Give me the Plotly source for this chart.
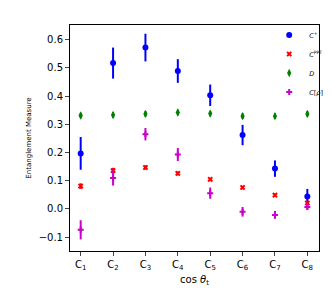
import plotly.graph_objects as go

categories = [1, 2, 3, 4, 5, 6, 7, 8]
tick_labels = ["C<sub>1</sub>", "C<sub>2</sub>", "C<sub>3</sub>", "C<sub>4</sub>",
               "C<sub>5</sub>", "C<sub>6</sub>", "C<sub>7</sub>", "C<sub>8</sub>"]

c_plus = [0.197, 0.517, 0.572, 0.489, 0.403, 0.262, 0.143, 0.044]
c_plus_err = [0.058, 0.055, 0.049, 0.042, 0.038, 0.036, 0.029, 0.027]

c_ppt = [0.081, 0.136, 0.147, 0.126, 0.105, 0.076, 0.049, 0.021]
c_ppt_err = [0.010, 0.010, 0.008, 0.007, 0.006, 0.006, 0.006, 0.008]

d_vals = [0.331, 0.333, 0.337, 0.342, 0.338, 0.329, 0.329, 0.337]
d_err = [0.010, 0.010, 0.010, 0.010, 0.010, 0.010, 0.010, 0.010]

c_rho = [-0.074, 0.110, 0.265, 0.193, 0.056, -0.010, -0.021, 0.007]
c_rho_err = [0.034, 0.027, 0.022, 0.023, 0.020, 0.017, 0.014, 0.010]

series = [
    ("<i>C</i><sup>+</sup>", c_plus, c_plus_err, "#0000ff", "circle", 6),
    ("<i>C</i><sup>PPT</sup>", c_ppt, c_ppt_err, "#ff0000", "x", 5),
    ("<i>D</i>", d_vals, d_err, "#008000", "diamond-tall", 6),
    ("<i>C</i>[<i>ρ</i>]", c_rho, c_rho_err, "#cc00cc", "cross", 5),
]

fig = go.Figure()
for name, vals, errs, color, sym, size in series:
    fig.add_trace(go.Scatter(
        x=categories, y=vals, mode="markers", name=name,
        marker=dict(color=color, symbol=sym, size=size, line=dict(width=0)),
        error_y=dict(type="data", array=errs, color=color, thickness=2, width=0),
    ))

fig.update_layout(
    width=332, height=291,
    margin=dict(l=62, r=12, t=12, b=48),
    paper_bgcolor="white", plot_bgcolor="white",
    font=dict(family="DejaVu Sans", color="black"),
    showlegend=True,
    legend=dict(x=0.80, y=1.02, xanchor="left", yanchor="top",
                font=dict(size=6.5, color="black"), bgcolor="rgba(255,255,255,0)",
                itemsizing="trace", itemwidth=30, tracegroupgap=0),
    xaxis=dict(range=[0.67, 8.36], tickvals=categories, ticktext=tick_labels,
               showgrid=False, zeroline=False, showline=True, mirror=True,
               linecolor="black", linewidth=1, ticks="outside", ticklen=4,
               tickfont=dict(size=10),
               title=dict(text="cos <i>θ</i><sub>t</sub>", font=dict(size=10), standoff=4)),
    yaxis=dict(range=[-0.149, 0.652], tickvals=[-0.1, 0, 0.1, 0.2, 0.3, 0.4, 0.5, 0.6],
               ticktext=["−0.1", "0.0", "0.1", "0.2", "0.3", "0.4", "0.5", "0.6"],
               showgrid=False, zeroline=False, showline=True, mirror=True,
               linecolor="black", linewidth=1, ticks="outside", ticklen=4,
               tickfont=dict(size=10),
               title=dict(text="Entanglement Measure", font=dict(size=7), standoff=6)),
)

fig.write_html("out.html")
